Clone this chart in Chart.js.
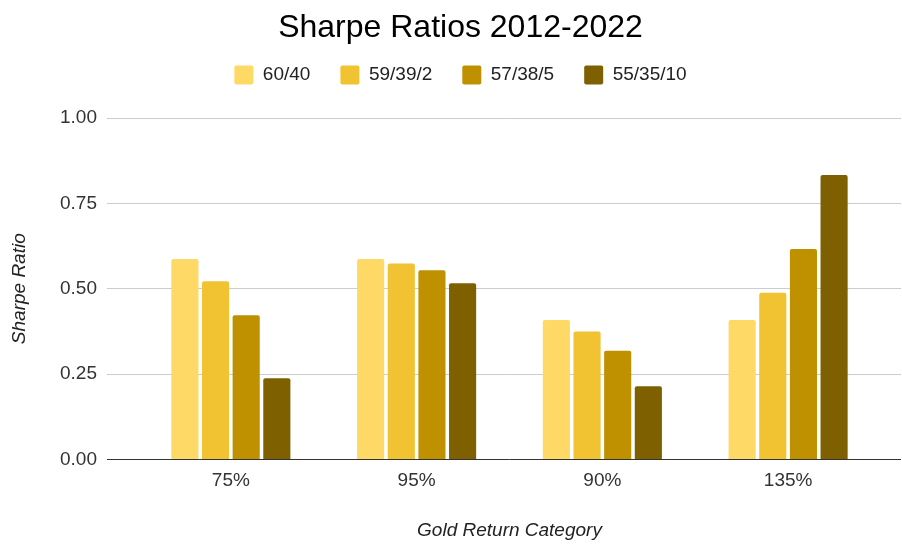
<!DOCTYPE html>
<html>
<head>
<meta charset="utf-8">
<script src="https://cdn.jsdelivr.net/npm/chart.js@4"></script>
<style>
  html, body { margin: 0; padding: 0; background: #ffffff; }
  #wrap { width: 902px; height: 544px; }
</style>
</head>
<body>
<div id="wrap"><canvas id="c" width="902" height="544"></canvas></div>
<script>
const chartTitle = 'Sharpe Ratios 2012-2022';
const categories = ['75%', '95%', '90%', '135%'];
const seriesNames = ['60/40', '59/39/2', '57/38/5', '55/35/10'];
const s60_40 = [0.587, 0.587, 0.408, 0.408];
const s59_39_2 = [0.522, 0.574, 0.375, 0.488];
const s57_38_5 = [0.422, 0.554, 0.318, 0.616];
const s55_35_10 = [0.238, 0.516, 0.214, 0.833];
const yTickLabels = ['0.00', '0.25', '0.50', '0.75', '1.00'];
const xAxisTitle = 'Gold Return Category';
const yAxisTitle = 'Sharpe Ratio';

const colors = ['#FFD966', '#F1C232', '#BF9000', '#7F6000'];
const seriesValues = [s60_40, s59_39_2, s57_38_5, s55_35_10];
const FONT = "'Liberation Sans', Arial, sans-serif";

const gridColor = (ctx) => (ctx.tick && ctx.tick.value === 0) ? '#333333' : '#cccccc';
const tickLabel = (v) => {
  const i = Math.round(v / 0.25);
  return yTickLabels[i] !== undefined ? yTickLabels[i] : '';
};

new Chart(document.getElementById('c'), {
  type: 'bar',
  data: {
    labels: categories,
    datasets: seriesNames.map((name, i) => ({
      label: name,
      data: seriesValues[i],
      backgroundColor: colors[i],
      borderWidth: 0,
      borderRadius: { topLeft: 2, topRight: 2, bottomLeft: 0, bottomRight: 0 },
      borderSkipped: 'bottom',
      categoryPercentage: 0.66,
      barPercentage: 0.885
    }))
  },
  options: {
    responsive: false,
    animation: false,
    devicePixelRatio: 1,
    layout: { padding: { left: 20, right: 1, top: 0, bottom: 0 } },
    plugins: {
      title: {
        display: true,
        text: chartTitle,
        color: '#000000',
        font: { family: FONT, size: 32, weight: 'normal', lineHeight: 1.2 },
        padding: { top: 9.3, bottom: -12.2 }
      },
      subtitle: {
        display: true,
        text: '',
        position: 'top',
        weight: 500,
        font: { size: 23.5, lineHeight: 1 },
        padding: 0
      },
      legend: {
        position: 'top',
        labels: {
          boxWidth: 19,
          boxHeight: 19,
          padding: 30,
          color: '#222222',
          useBorderRadius: true,
          borderRadius: 2,
          font: { family: FONT, size: 19 }
        }
      },
      tooltip: { enabled: false }
    },
    scales: {
      x: {
        type: 'category',
        grid: { display: false, drawTicks: false },
        border: { display: false },
        ticks: { color: '#333333', padding: 10, font: { family: FONT, size: 19 } },
        title: {
          display: true,
          text: xAxisTitle,
          color: '#222222',
          font: { family: FONT, size: 19, style: 'italic' },
          padding: { top: 17, bottom: 2 }
        }
      },
      y: {
        position: 'left',
        min: 0,
        max: 1,
        border: { display: false },
        grid: {
          color: gridColor,
          tickColor: gridColor,
          drawTicks: true,
          tickLength: 31,
          lineWidth: 1
        },
        ticks: {
          stepSize: 0.25,
          padding: 10,
          color: '#333333',
          font: { family: FONT, size: 19 },
          callback: tickLabel
        },
        title: {
          display: true,
          text: yAxisTitle,
          color: '#222222',
          font: { family: FONT, size: 19, style: 'italic' },
          padding: { top: -11.4, bottom: 18.6 }
        }
      },
      y2: {
        position: 'right',
        min: 0,
        max: 1,
        border: { display: false },
        grid: {
          drawOnChartArea: false,
          color: gridColor,
          tickColor: gridColor,
          drawTicks: true,
          tickLength: 20,
          lineWidth: 1
        },
        ticks: { stepSize: 0.25, display: false }
      }
    }
  }
});
</script>
</body>
</html>
